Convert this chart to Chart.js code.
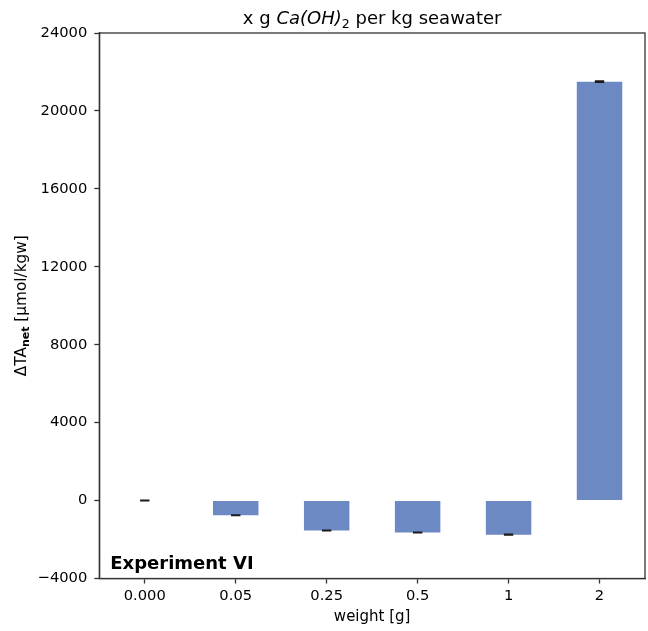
<!DOCTYPE html>
<html>
<head>
<meta charset="utf-8">
<script src="https://cdn.jsdelivr.net/npm/chart.js@4"></script>
<style>
  html, body { margin: 0; padding: 0; background: #fff; }
  #wrap { width: 648px; height: 631px; position: relative; }
</style>
</head>
<body>
<div id="wrap"><canvas id="c" width="648" height="631"></canvas></div>
<script>
// Net alkalinity change per Ca(OH)2 dose
const weights = ['0.000', '0.05', '0.25', '0.5', '1', '2'];
const deltaTA = [0, -750, -1540, -1640, -1750, 21500];
const deltaErr = [15, 15, 15, 15, 15, 30];
const yTicks = [-4000, 0, 4000, 8000, 12000, 16000, 20000, 24000];

const FONT = 'DejaVu Sans';
const barColor = 'rgb(108,137,196)';
const axisColor = '#333';

// Frame, error caps and annotation text
const decor = {
  id: 'decor',
  afterDatasetsDraw(chart) {
    const { ctx, chartArea: a, scales: { x, y } } = chart;
    ctx.save();
    // error bars
    ctx.strokeStyle = '#1a1a1a';
    ctx.lineWidth = 1.5;
    deltaTA.forEach((v, i) => {
      const cx = x.getPixelForValue(i);
      const e = deltaErr[i];
      const y1 = y.getPixelForValue(v - e), y2 = y.getPixelForValue(v + e);
      ctx.beginPath();
      ctx.moveTo(cx, y1); ctx.lineTo(cx, y2);
      ctx.moveTo(cx - 4.7, y1); ctx.lineTo(cx + 4.7, y1);
      ctx.moveTo(cx - 4.7, y2); ctx.lineTo(cx + 4.7, y2);
      ctx.stroke();
    });
    // spines
    ctx.strokeStyle = axisColor;
    ctx.lineWidth = 1.3;
    ctx.strokeRect(a.left, a.top, a.right - a.left, a.bottom - a.top);
    // annotation
    ctx.fillStyle = '#000';
    ctx.font = 'bold 18px "' + FONT + '"';
    ctx.textBaseline = 'alphabetic';
    ctx.textAlign = 'left';
    ctx.fillText('Experiment VI', a.left + 11, a.bottom - 9.5);
    ctx.restore();
  },
  afterDraw(chart) {
    const { ctx, chartArea: a } = chart;
    ctx.save();
    ctx.fillStyle = '#000';
    ctx.textBaseline = 'alphabetic';
    ctx.textAlign = 'left';
    // title with italic formula and subscript
    const size = 18;
    const parts = [
      { t: 'x g ', f: size + 'px "' + FONT + '"', dy: 0 },
      { t: 'Ca(OH)', f: 'italic ' + size + 'px "' + FONT + '"', dy: 0 },
      { t: '2', f: (size * 0.7) + 'px "' + FONT + '"', dy: 4 },
      { t: ' per kg seawater', f: size + 'px "' + FONT + '"', dy: 0 }
    ];
    let total = 0;
    parts.forEach(p => { ctx.font = p.f; p.w = ctx.measureText(p.t).width; total += p.w; });
    let px = (a.left + a.right) / 2 - total / 2;
    const base = 24;
    parts.forEach(p => { ctx.font = p.f; ctx.fillText(p.t, px, base + p.dy); px += p.w; });

    // y-axis title, rotated
    ctx.translate(25.5, (a.top + a.bottom) / 2);
    ctx.rotate(-Math.PI / 2);
    const ys = 15.3;
    const yparts = [
      { t: '\u0394TA', f: ys + 'px "' + FONT + '"', dy: 0 },
      { t: 'net', f: 'bold ' + (ys * 0.72) + 'px "' + FONT + '"', dy: 3 },
      { t: ' [\u00b5mol/kgw]', f: ys + 'px "' + FONT + '"', dy: 0 }
    ];
    total = 0;
    yparts.forEach(p => { ctx.font = p.f; p.w = ctx.measureText(p.t).width; total += p.w; });
    px = -total / 2;
    yparts.forEach(p => { ctx.font = p.f; ctx.fillText(p.t, px, p.dy); px += p.w; });
    ctx.restore();
  }
};

new Chart(document.getElementById('c'), {
  type: 'bar',
  data: {
    labels: weights,
    datasets: [{
      data: deltaTA,
      backgroundColor: barColor,
      borderWidth: 0,
      barPercentage: 0.5,
      categoryPercentage: 1.0
    }]
  },
  options: {
    responsive: false,
    animation: false,
    layout: { padding: { top: 33, right: 3, bottom: 5, left: 0 } },
    plugins: { legend: { display: false }, tooltip: { enabled: false }, title: { display: false } },
    scales: {
      x: {
        offset: true,
        grid: { display: true, drawOnChartArea: false, drawTicks: true, tickLength: 5, tickWidth: 1.3, color: axisColor, offset: false },
        border: { display: true, color: axisColor, width: 1.3 },
        ticks: { color: '#000', padding: 4, font: { family: FONT, size: 14.7 } },
        title: { display: true, text: 'weight [g]', color: '#000', font: { family: FONT, size: 15 }, padding: { top: 0, bottom: 0 } },
        afterFit(s) { s.height = 47.5; }
      },
      y: {
        min: -4000, max: 24000,
        afterBuildTicks(s) { s.ticks = yTicks.map(v => ({ value: v })); },
        grid: { display: true, drawOnChartArea: false, drawTicks: true, tickLength: 5, tickWidth: 1.3, color: axisColor },
        border: { display: true, color: axisColor, width: 1.3 },
        ticks: {
          color: '#000', padding: 7, font: { family: FONT, size: 14.7 },
          callback: v => (v < 0 ? '\u2212' + Math.abs(v) : String(v))
        },
        afterFit(s) { s.width = 99.3; }
      }
    }
  },
  plugins: [decor]
});
</script>
</body>
</html>
